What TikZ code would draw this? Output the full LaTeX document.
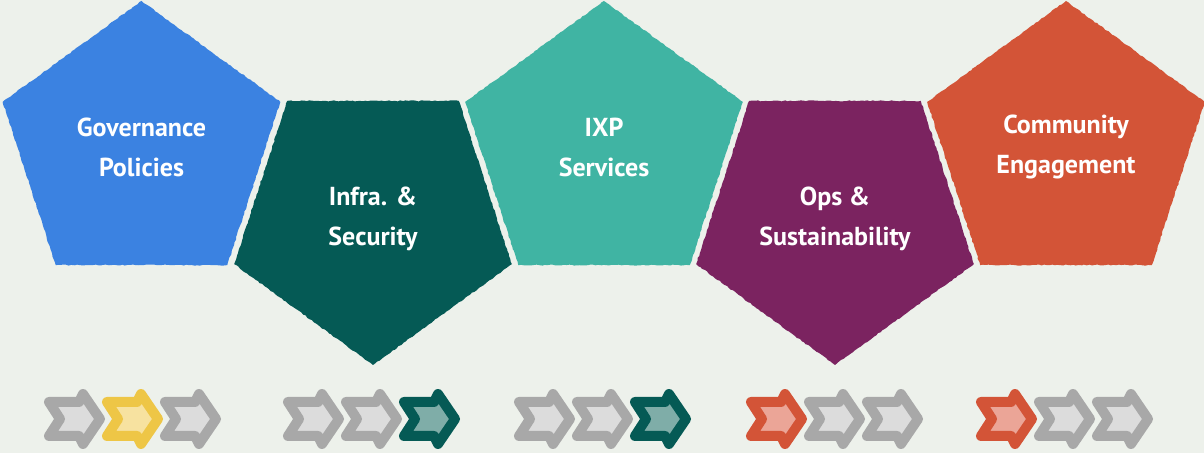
\documentclass[tikz,border=0pt]{standalone}
\usepackage{fontspec}
\setmainfont{PT Sans}
\usepackage{tikz}
\usetikzlibrary{shapes.geometric,decorations.pathmorphing}

\definecolor{bg}{HTML}{EDF1EB}
\definecolor{govblue}{HTML}{3B82E1}
\definecolor{infteal}{HTML}{055A55}
\definecolor{ixpteal}{HTML}{40B4A3}
\definecolor{opsplum}{HTML}{7B2360}
\definecolor{comred}{HTML}{D35437}
\definecolor{chgrey}{HTML}{A8A8A8}
\definecolor{chgreyfill}{HTML}{DCDCDC}
\definecolor{chyellow}{HTML}{EEC646}
\definecolor{chyellowfill}{HTML}{F7E2A0}
\definecolor{chtealfill}{HTML}{7FADA8}
\definecolor{chredfill}{HTML}{EBA597}

\begin{document}
\begin{tikzpicture}[x=0.75pt,y=0.75pt,
  penta/.style={regular polygon, regular polygon sides=5,
    minimum size=219pt, inner sep=0pt, outer sep=0pt,
    text=white, align=center,
    font=\fontsize{19.5pt}{30pt}\selectfont\bfseries,
    decorate, decoration={random steps, segment length=2pt, amplitude=0.4pt}},
  pentadown/.style={penta, shape border rotate=180},
  chev/.style={line width=7.5pt, line join=round},
  chevgrey/.style={chev, draw=chgrey, fill=chgreyfill},
  chevyellow/.style={chev, draw=chyellow, fill=chyellowfill},
  chevteal/.style={chev, draw=infteal, fill=chtealfill},
  chevred/.style={chev, draw=comred, fill=chredfill}]

  % Background
  \fill[bg] (0,0) rectangle (1204,453);
  \useasboundingbox (0,0) rectangle (1204,453);

  % Pentagons
  \node[penta, fill=govblue] (gov) at (141.5,306) {Governance\\Policies};
  \node[pentadown, fill=infteal] (infra) at (373,234) {Infra. \&\\Security};
  \node[penta, fill=ixpteal] (ixp) at (604,306) {IXP\\Services};
  \node[pentadown, fill=opsplum] (ops) at (835,234) {Ops \&\\Sustainability};
  \node[penta, fill=comred] (comm) at (1066,306) {Community\\Engagement};

  % Chevrons
  \foreach \x/\s in {73/chevgrey, 131/chevyellow, 189/chevgrey,
                     312/chevgrey, 370/chevgrey, 428/chevteal,
                     543/chevgrey, 601/chevgrey, 659/chevteal,
                     775/chevred, 833/chevgrey, 891/chevgrey,
                     1005/chevred, 1063/chevgrey, 1121/chevgrey}
    \draw[\s, shift={(\x,34)}] (-24,17) -- (6,17) -- (10,25) -- (27,0)
      -- (10,-25) -- (6,-17) -- (-24,-17) -- (-13,0) -- cycle;
\end{tikzpicture}
\end{document}
